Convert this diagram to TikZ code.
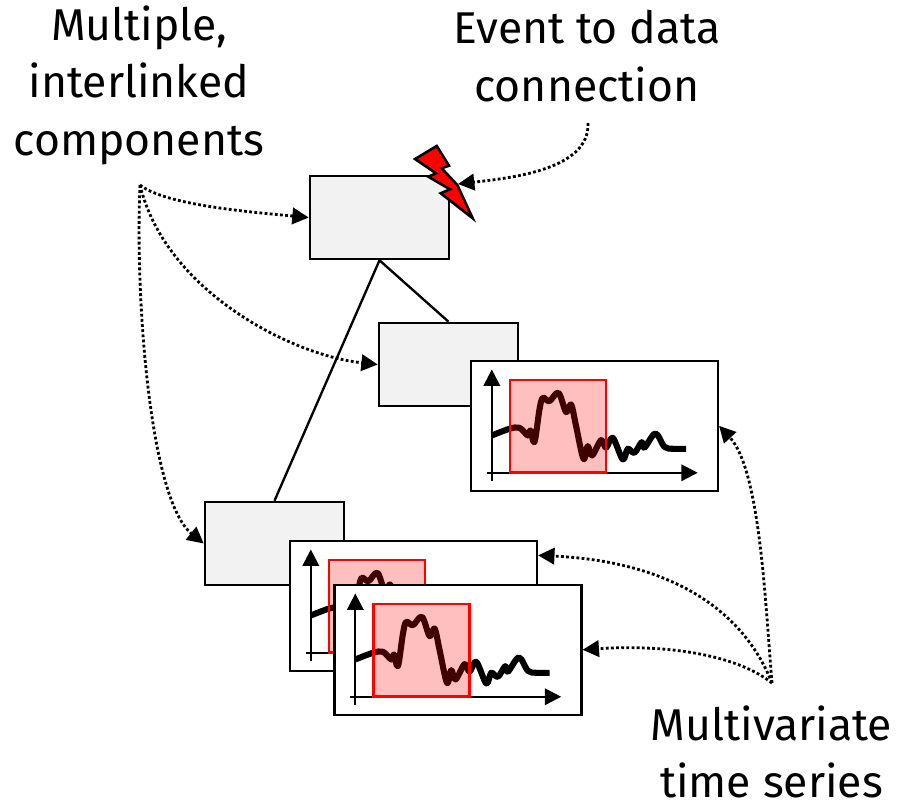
\documentclass[tikz,border=0pt]{standalone}
\usepackage{fontspec}
\setmainfont{Fira Sans}
\usetikzlibrary{arrows.meta}

\tikzset{
  compbox/.style={draw, line width=2.2pt, fill=black!5, minimum width=4.17cm, minimum height=2.49cm, inner sep=0pt},
  serbox/.style={draw, line width=2.2pt, fill=white, anchor=north west, minimum width=7.41cm, minimum height=3.9cm, inner sep=0pt},
  label/.style={font=\fontsize{38}{49}\selectfont, align=center, inner sep=0pt},
  link/.style={line width=2pt},
  pointer/.style={line width=2.4pt, dotted, line cap=butt, -{Triangle[length=14pt, width=14pt]}},
  axis/.style={line width=2pt, -{Triangle[length=14pt, width=14pt]}},
}

% one time series panel, #1 name, #2 top left corner
\newcommand{\serpanel}[2]{
  \node [serbox] (#1) at (#2) {};
  \begin{scope}[shift={(#2)}, x=0.01cm, y=-0.01cm, shift={(-30,-30)}]
    \draw[axis] (97,395) -- (97,60);
    \draw[axis] (82,370) -- (715,370);
    \draw[line width=5.2pt, line join=round] plot[smooth, tension=0.55] coordinates {
      (97,258) (150,238) (180,235) (205,258) (213,243) (225,278) (240,180) (250,145)
      (270,155) (297,130) (320,188) (335,165) (350,230) (372,328) (385,290) (398,318)
      (425,272) (440,295) (460,265) (490,330) (505,298) (525,310) (547,278) (555,295)
      (588,252) (615,292) (640,298) (680,298)};
    \draw[red, line width=2.2pt, fill=red, fill opacity=0.25] (152,92) rectangle (440,370);
  \end{scope}
}

\begin{document}
\begin{tikzpicture}[x=0.03cm, y=-0.03cm]
  \useasboundingbox (0,0) rectangle (898,806);

  \node [compbox] (top) at (379.5,217.5) {};
  \node [compbox] (mid) at (448.5,364.5) {};
  \node [compbox] (low) at (274.5,543.5) {};

  \draw[link] (top.south) -- (mid.north);
  \draw[link] (top.south) -- (low.north);

  \serpanel{serA}{469.5,359.5}
  \serpanel{serB}{288.5,539.5}
  \serpanel{serC}{333,583.5}

  % lightning bolt
  \draw[line width=2.2pt, fill=red, line join=miter]
    (415,159) -- (436.7,146) -- (449,165.7) -- (441.7,168.3) -- (457.3,185) -- (472.7,218.3)
    -- (440.7,193.3) -- (450,189.3) -- (428.3,176.7) -- (436,173.3) -- cycle;

  \node [label] (comps) at (139,85) {Multiple,\\interlinked\\components};
  \node [label] (event) at (587,56) {Event to data\\connection};
  \node [label] (multi) at (771.5,752) {Multivariate\\time series};

  \coordinate (compsout) at (140,185);
  \coordinate (eventout) at (588,123);
  \coordinate (multiout) at (772,683);
  \coordinate (bolt) at (458,184);

  \draw[pointer] (compsout) .. controls (165,205) and (250,212) .. (top.west);
  \draw[pointer] (compsout) .. controls (165,290) and (290,355) .. (mid.west);
  \draw[pointer] (compsout) .. controls (135,300) and (150,500) .. (low.west);
  \draw[pointer] (eventout) .. controls (590,170) and (510,178) .. (bolt);
  \draw[pointer] (multiout) .. controls (765,600) and (760,470) .. (serA.east);
  \draw[pointer] (multiout) .. controls (735,590) and (640,560) .. (serB.22);
  \draw[pointer] (multiout) .. controls (730,650) and (650,645) .. (serC.east);
\end{tikzpicture}
\end{document}
